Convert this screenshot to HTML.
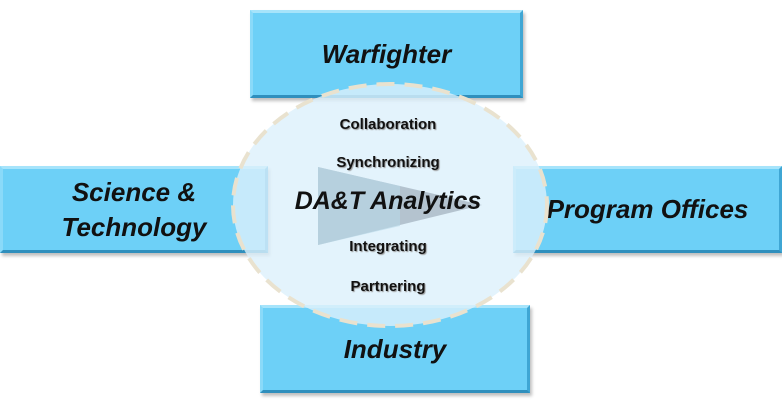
<!DOCTYPE html>
<html><head><style>
body{margin:0;width:782px;height:408px;background:#fff;position:relative;overflow:hidden;font-family:"Liberation Sans",sans-serif}
.b{position:absolute;background:#6dd0f7;box-sizing:border-box;border-top:3px solid #a6e4fb;border-left:3px solid #8adaf9;border-right:3px solid #3fa6d4;border-bottom:3px solid #2f8fbd;display:flex;align-items:center;justify-content:center;text-align:center;font-style:italic;font-weight:bold;color:#111;font-size:26px;line-height:35px;box-shadow:2px 3px 3px rgba(0,0,0,.25)}
.t{position:absolute;width:782px;left:0;text-align:center;font-weight:bold;font-size:15px;color:#111;text-shadow:1px 1px 1px #999}
</style></head><body>
<div class="b" style="left:250px;top:10px;width:273px;height:88px">Warfighter</div>
<div class="b" style="left:0;top:166px;width:268px;height:87px">Science &amp;<br>Technology</div>
<div class="b" style="left:513px;top:166px;width:269px;height:87px;padding-left:0">Program Offices</div>
<div class="b" style="left:260px;top:305px;width:270px;height:88px">Industry</div>
<svg style="position:absolute;left:0;top:0" width="782" height="408">
<ellipse cx="390" cy="205" rx="157" ry="121" fill="#dcf0fb" fill-opacity="0.8" stroke="#e9e2cf" stroke-width="4" stroke-dasharray="18 10"/>
<polygon points="318,167 482,205 318,245" fill="#7a8a98" opacity="0.45"/>
<polygon points="318,167 400,186 400,226 318,245" fill="#b8d8e8" opacity="0.6"/>
</svg>
<div class="t" style="top:116px;left:-3px">Collaboration</div>
<div class="t" style="top:154px;left:-3px">Synchronizing</div>
<div class="t" style="top:187px;left:-3px;font-size:25px;font-style:italic;text-shadow:none">DA&amp;T Analytics</div>
<div class="t" style="top:238px;left:-3px">Integrating</div>
<div class="t" style="top:278px;left:-3px">Partnering</div>
</body></html>
